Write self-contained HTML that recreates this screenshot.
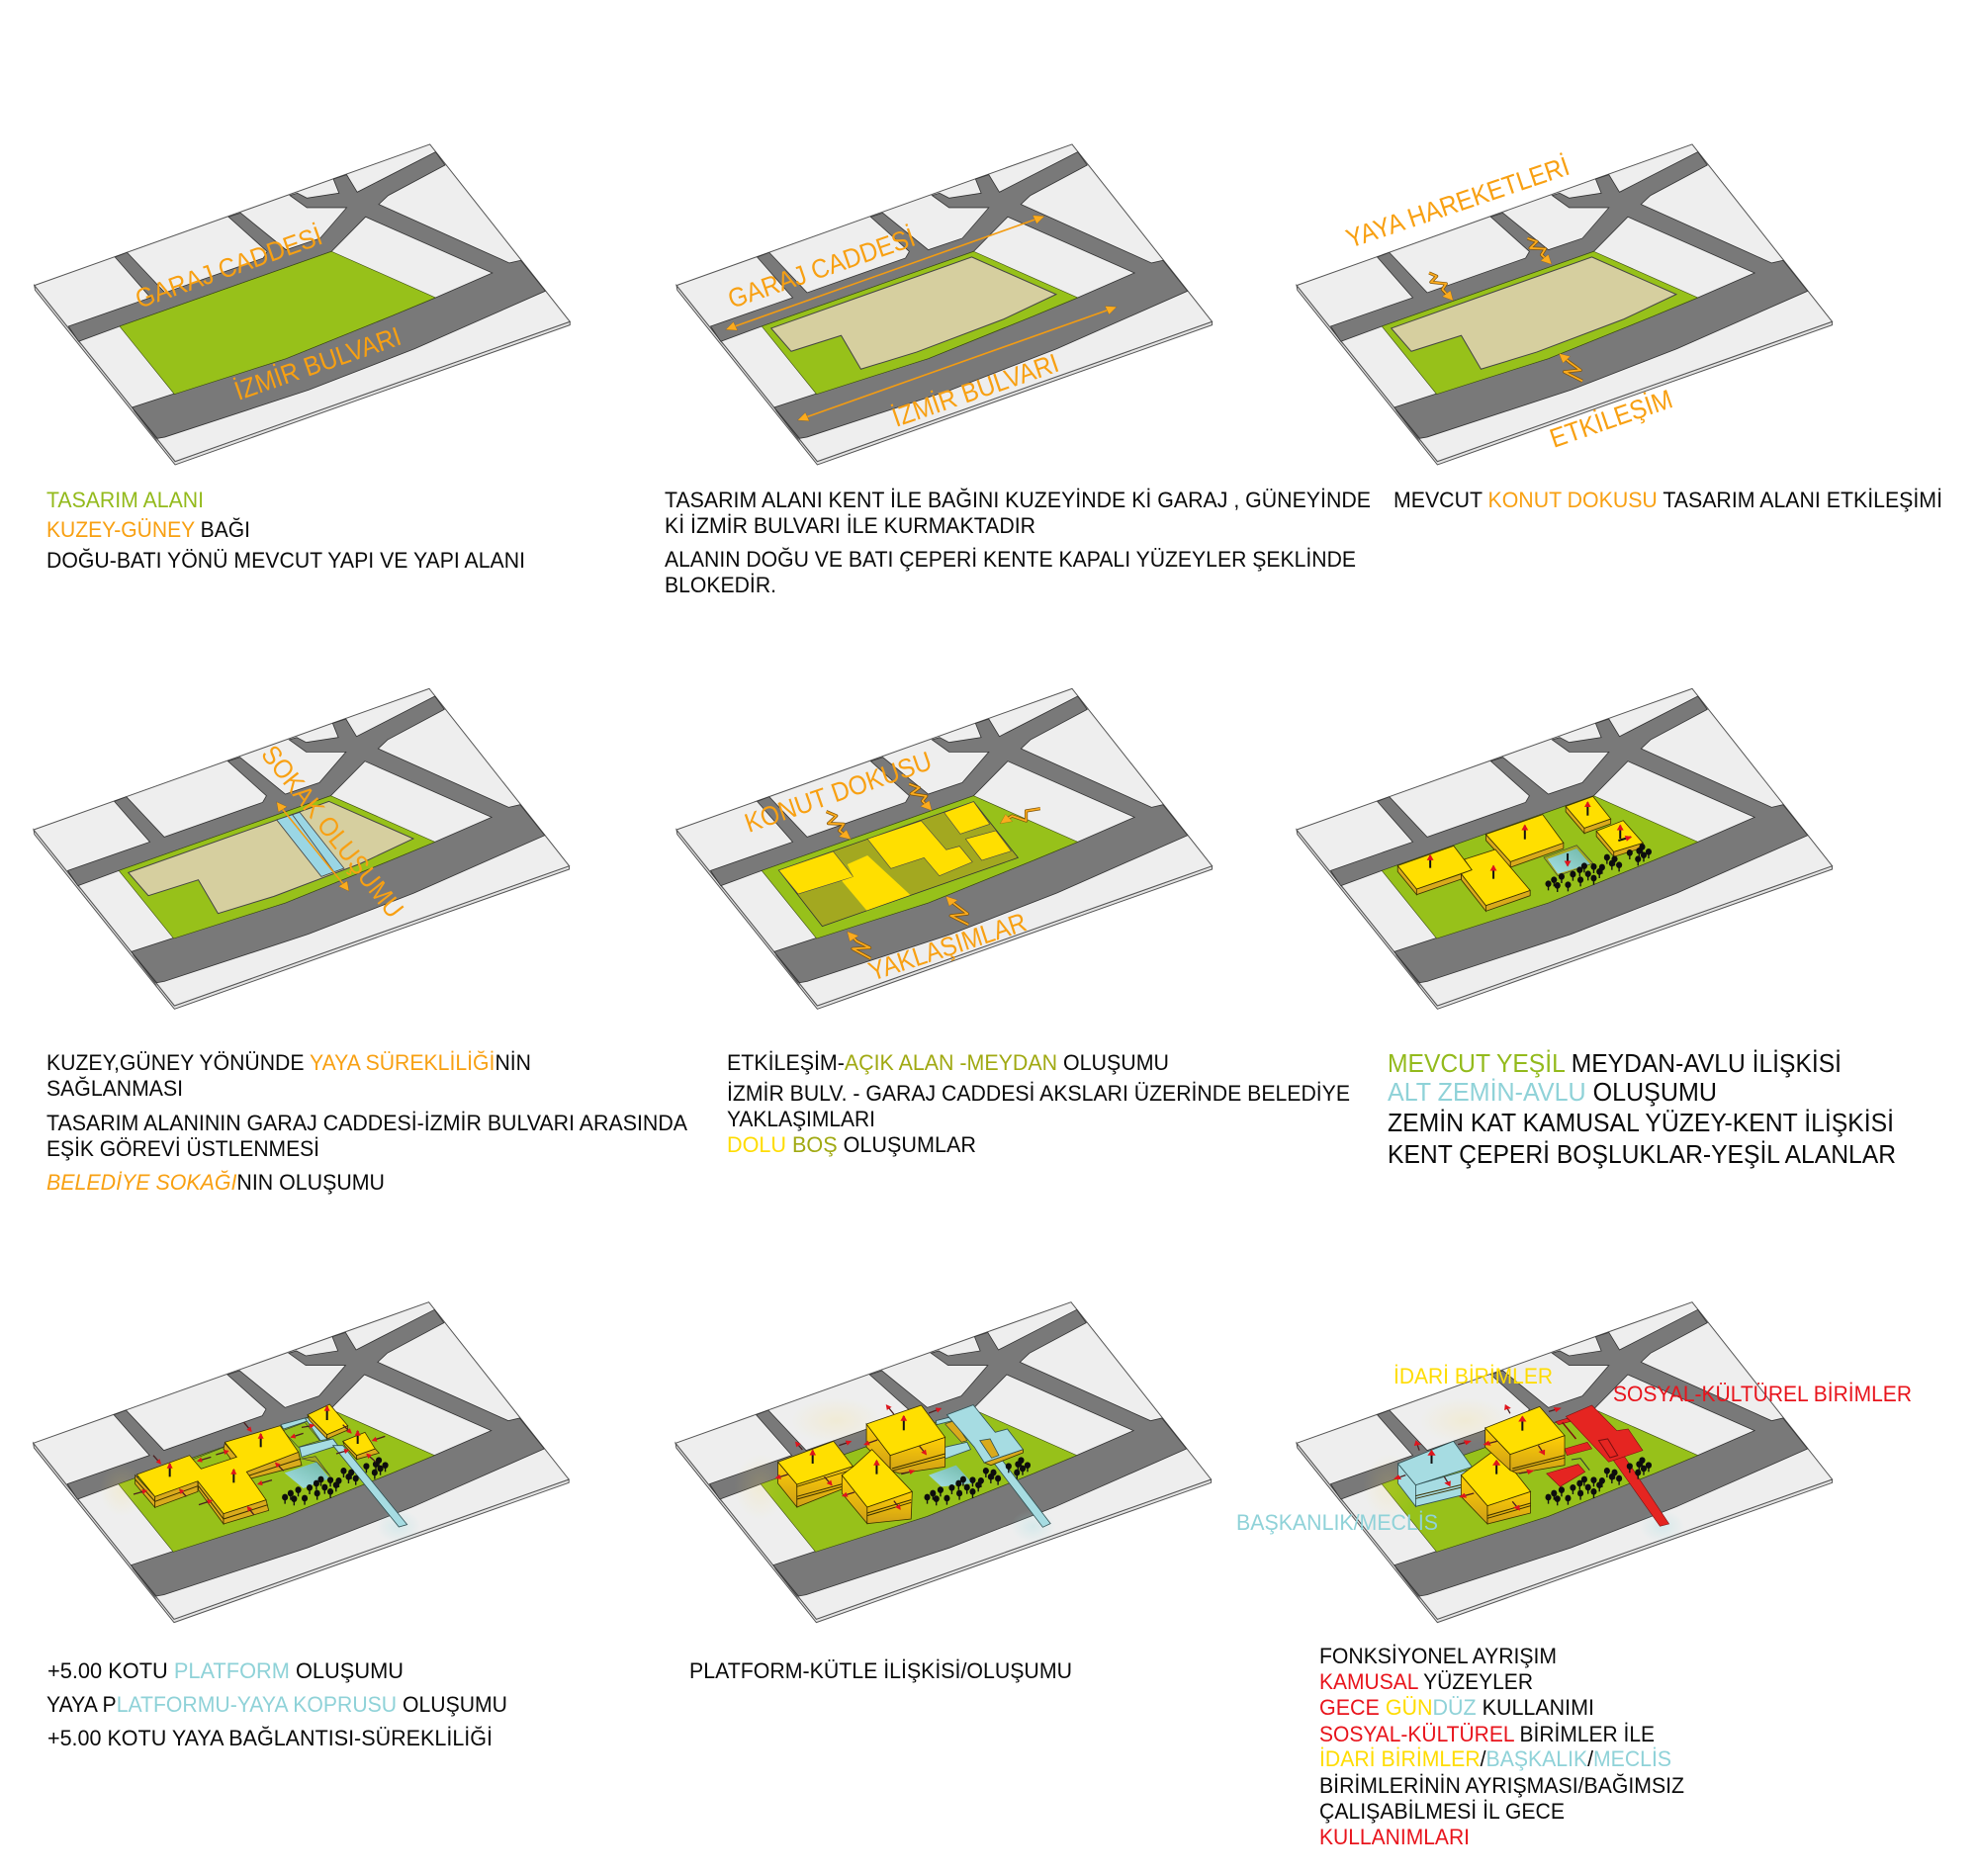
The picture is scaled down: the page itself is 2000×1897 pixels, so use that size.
<!DOCTYPE html>
<html><head><meta charset="utf-8"><style>
html,body{margin:0;padding:0;background:#fff}
svg{display:block}
svg *{vector-effect:non-scaling-stroke}
text{font-family:"Liberation Sans",sans-serif;fill:#0a0a0a;font-size:22px}
.o{fill:#f8a012}.g{fill:#93ba1c}.y{fill:#ffdc00}.r{fill:#e8141c}.c{fill:#8fd2d8}.v{fill:#a0a912}
.l{fill:#f8a012;font-size:27px}
.b{font-size:26px}
.top{fill:#ffdf00;stroke:#3a3000;stroke-width:.8}
.sd{fill:#d9aa1c;stroke:#3a3000;stroke-width:.8}
.gs{fill:url(#amb);stroke:#3a3000;stroke-width:.8}
.cy{fill:#a6dce2;stroke:#2f4f52;stroke-width:.8}
.rd{fill:#e52521;stroke:#7a1010;stroke-width:.6}
.ln{fill:none;stroke:#3a3000;stroke-width:1}
.up{stroke:#111;stroke-width:2;fill:none;marker-end:url(#rh)}
.sm{stroke:#4a2020;stroke-width:1.3;fill:none;marker-end:url(#rs)}
.zo{fill:none;stroke:#7a5008;stroke-width:3.2;stroke-linejoin:round}
.zi{fill:none;stroke:#fbab1e;stroke-width:1.8;stroke-linejoin:round;marker-end:url(#oh)}
.da{stroke:#f39c12;stroke-width:1.6;fill:none;marker-start:url(#ohs);marker-end:url(#oh)}
</style></head><body>
<svg xmlns="http://www.w3.org/2000/svg" width="2000" height="1897" viewBox="0 0 2000 1897">
<defs>
<linearGradient id="amb" x1="0" y1="0" x2="0" y2="1"><stop offset="0" stop-color="#ffcf05"/><stop offset="1" stop-color="#cf9f16"/></linearGradient>
<linearGradient id="wat" x1="0" y1="1" x2="1" y2="0"><stop offset="0" stop-color="#a6e0e6"/><stop offset="1" stop-color="#6fb7a6"/></linearGradient>
<radialGradient id="gy"><stop offset="0" stop-color="#ffd94a" stop-opacity=".15"/><stop offset="1" stop-color="#ffd94a" stop-opacity="0"/></radialGradient>
<radialGradient id="gc"><stop offset="0" stop-color="#9fdde2" stop-opacity=".3"/><stop offset="1" stop-color="#9fdde2" stop-opacity="0"/></radialGradient>
<marker id="rh" viewBox="0 0 10 10" refX="8" refY="5" markerUnits="userSpaceOnUse" markerWidth="18" markerHeight="20" orient="auto"><path d="M0 0L10 5L0 10Z" fill="#e0141c"/></marker>
<marker id="rs" viewBox="0 0 10 10" refX="8" refY="5" markerUnits="userSpaceOnUse" markerWidth="16" markerHeight="16" orient="auto"><path d="M0 0L10 5L0 10Z" fill="#e0141c"/></marker>
<marker id="oh" viewBox="0 0 10 10" refX="8" refY="5" markerUnits="userSpaceOnUse" markerWidth="30" markerHeight="28" orient="auto"><path d="M0 0L10 5L0 10Z" fill="#fbab1e" stroke="#6a4200" stroke-width=".6"/></marker>
<marker id="ohs" viewBox="0 0 10 10" refX="2" refY="5" markerUnits="userSpaceOnUse" markerWidth="30" markerHeight="28" orient="auto"><path d="M10 0L0 5L10 10Z" fill="#fbab1e" stroke="#6a4200" stroke-width=".6"/></marker>
<g id="base">
<polygon points="55,508 57,522 427,1052 1470,628 1470,618 427,1042" fill="#e2e2e2" stroke="#555" stroke-width="1"/>
<polygon points="55,508 1100,80 1470,618 427,1042" fill="#eeeeee" stroke="#555" stroke-width="1"/>
<polygon points="145,632 172,678 180,692 150,645" fill="#444"/>
<polygon points="313,878 375,970 382,985 318,890" fill="#444"/>
<polygon points="145,632 362,545 268,422 300,408 400,530 660,425 670,405 568,300 600,288 720,400 810,365 880,272 775,272 730,235 750,228 775,243 860,228 845,185 880,172 908,225 1115,103 1140,143 990,235 965,262 1310,440 1340,432 1405,525 1060,700 780,825 400,968 380,972 313,878 420,838 720,730 1000,600 1115,545 1265,470 930,300 840,405 280,632 172,678" fill="#797979" stroke="#333" stroke-width=".8"/>
<polygon points="280,632 840,405 1115,545 1000,600 720,730 425,838" fill="#97c11a" stroke="#3a4a10" stroke-width=".6"/>
</g>
<polygon id="tan" points="305,638 835,422 1058,535 920,610 690,710 542,762 490,660 358,708" fill="#d6cf9f" stroke="#444" stroke-width="1"/>
<g id="t"><line x1="0" y1="0" x2="0" y2="20" stroke="#111" stroke-width="1.4"/><ellipse cx="0" cy="0" rx="8" ry="10" fill="#0d0d0d"/></g>
<g id="trees">
<use href="#t" x="720" y="672"/><use href="#t" x="735" y="660"/><use href="#t" x="744" y="677"/><use href="#t" x="755" y="650"/><use href="#t" x="772" y="675"/><use href="#t" x="785" y="643"/><use href="#t" x="805" y="660"/><use href="#t" x="803" y="630"/><use href="#t" x="815" y="618"/><use href="#t" x="825" y="642"/><use href="#t" x="840" y="655"/><use href="#t" x="840" y="620"/><use href="#t" x="855" y="635"/><use href="#t" x="862" y="622"/><use href="#t" x="875" y="592"/><use href="#t" x="888" y="610"/><use href="#t" x="895" y="597"/><use href="#t" x="907" y="615"/><use href="#t" x="935" y="578"/><use href="#t" x="957" y="597"/><use href="#t" x="960" y="572"/><use href="#t" x="968" y="560"/><use href="#t" x="972" y="585"/><use href="#t" x="985" y="575"/>
</g>
</defs>

<!-- P1 -->
<g transform="translate(13.7,119.3) scale(.3827,.3333)"><use href="#base"/></g>

<!-- P2 -->
<g transform="translate(663,119.3) scale(.3827,.3333)"><use href="#base"/><use href="#tan"/>
<line class="da" x1="190" y1="640" x2="1022" y2="300"/>
<line class="da" x1="380" y1="915" x2="1213" y2="575"/></g>

<!-- P3 -->
<g transform="translate(1290,119.3) scale(.3827,.3333)"><use href="#base"/><use href="#tan"/>
<polyline class="zo" points="405,470 425,480 410,498 450,503 440,520 458,544"/><polyline class="zi" points="405,470 425,480 410,498 450,503 440,520 465,550"/>
<polyline class="zo" points="665,365 690,375 672,395 712,397 702,415 718,434"/><polyline class="zi" points="665,365 690,375 672,395 712,397 702,415 725,440"/>
<polyline class="zo" points="810,798 762,770 805,765 775,740 758,724"/><polyline class="zi" points="810,798 762,770 805,765 775,740 752,718"/></g>

<!-- P4 -->
<g transform="translate(13,669.7) scale(.3827,.3333)"><use href="#base"/><use href="#tan"/>
<polygon points="697,478 758,455 875,625 815,650" fill="#9ad6e4" stroke="#444" stroke-width=".8"/>
<line x1="737" y1="460" x2="850" y2="638" stroke="#444" stroke-width=".8"/>
<line class="da" x1="700" y1="428" x2="885" y2="690"/></g>

<!-- P5 -->
<g transform="translate(663,669.7) scale(.3827,.3333)"><use href="#base"/></g>
<g transform="translate(660,670) scale(.40816,.3333)">
<polygon points="312,630 795,422 905,592 420,800" fill="#a3a820" stroke="#333" stroke-width=".8"/>
<polygon points="312,630 447,573 497,650 360,702" fill="#ffdf00" stroke="#444" stroke-width=".6"/>
<polygon points="468,662 497,650 482,612 532,585 638,705 530,752" fill="#ffdf00"/>
<polygon points="532,535 665,480 727,568 760,557 792,605 710,647 672,592 590,625" fill="#ffdf00" stroke="#444" stroke-width=".6"/>
<polygon points="722,455 795,422 835,490 762,520" fill="#ffdf00" stroke="#444" stroke-width=".6"/>
<polygon points="775,535 850,510 888,572 815,600" fill="#ffdf00" stroke="#444" stroke-width=".6"/>
<polyline class="zo" points="430,452 455,465 435,488 473,490 462,510 480,526"/><polyline class="zi" points="430,452 455,465 435,488 473,490 462,510 487,533"/>
<polyline class="zo" points="635,368 660,380 640,398 678,405 668,420 682,438"/><polyline class="zi" points="635,368 660,380 640,398 678,405 668,420 688,445"/>
<polyline class="zo" points="960,443 925,450 925,480 890,465 874,477"/><polyline class="zi" points="960,443 925,450 925,480 890,465 865,485"/>
<polyline class="zo" points="782,795 738,768 780,762 745,730 737,720"/><polyline class="zi" points="782,795 738,768 780,762 745,730 730,713"/>
<polyline class="zo" points="540,898 495,868 538,865 505,845 492,828"/><polyline class="zi" points="540,898 495,868 538,865 505,845 485,820"/>
</g>

<!-- P6 -->
<g transform="translate(1290,669.7) scale(.3827,.3333)"><use href="#base"/>
<polygon points="470,557 555,522 620,605 518,640" fill="#97c11a"/>
<polygon points="708,592 795,555 838,610 745,648" fill="#a3a820" stroke="#333" stroke-width=".6"/>
<polygon points="718,597 795,565 830,612 745,642" fill="url(#wat)"/>
<polygon class="sd" points="322,617 372,688 372,705 322,635"/><polygon class="sd" points="372,688 490,642 490,658 372,705"/>
<polygon class="top" points="322,617 470,557 518,630 372,688"/>
<polygon class="sd" points="555,522 620,605 620,622 555,540"/><polygon class="sd" points="620,605 760,548 760,565 620,622"/>
<polygon class="top" points="555,522 705,462 760,548 620,605"/>
<polygon class="sd" points="490,642 555,738 555,755 490,660"/><polygon class="sd" points="555,738 672,692 672,708 555,755"/>
<polygon class="top" points="498,598 580,568 672,692 555,738 490,642 518,630"/>
<polygon class="sd" points="766,437 815,503 815,519 766,453"/><polygon class="sd" points="815,503 885,475 885,490 815,519"/>
<polygon class="top" points="766,437 838,407 885,475 815,503"/>
<polygon class="sd" points="847,512 893,575 893,590 847,528"/><polygon class="sd" points="893,575 970,548 970,562 893,590"/>
<polygon class="top" points="847,512 918,480 970,548 893,575"/>
<use href="#trees"/>
<line class="up" x1="408" y1="624" x2="408" y2="586"/><line class="up" x1="575" y1="657" x2="575" y2="618"/><line class="up" x1="658" y1="537" x2="658" y2="495"/><line class="up" x1="824" y1="465" x2="824" y2="425"/><line class="up" x1="910" y1="535" x2="910" y2="495"/><line class="up" x1="905" y1="541" x2="938" y2="530"/><line class="up" x1="771" y1="580" x2="771" y2="617"/>
</g>

<!-- P7 -->
<g transform="translate(12.6,1290) scale(.3827,.3333)"><use href="#base"/>
<ellipse cx="290" cy="650" rx="60" ry="80" fill="url(#gy)"/><ellipse cx="1020" cy="760" rx="60" ry="50" fill="url(#gc)"/></g>
<g transform="translate(120,1410) scale(.33333)">
<polygon points="225,197 320,160 345,195 250,226" fill="#97c11a" stroke="#333" stroke-width=".6"/>
<polygon points="498,110 565,85 610,140 545,160" fill="#97c11a" stroke="#333" stroke-width=".6"/>
<polygon points="555,195 597,188 642,248 600,205" fill="#a3a820" stroke="#333" stroke-width=".6"/>
<polygon points="503,238 600,205 640,255 560,285" fill="url(#wat)"/>
<polygon class="cy" points="492,92 565,72 575,80 500,105"/>
<polygon class="cy" points="565,72 580,72 640,135 612,140"/>
<polygon class="cy" points="548,160 650,135 665,155 555,190"/>
<polygon class="cy" points="650,155 680,155 875,395 850,402"/>
<polygon class="sd" points="50,245 110,310 110,343 50,272"/><polygon class="sd" points="110,310 240,263 240,295 110,343"/>
<polyline class="ln" points="50,258 110,325 240,278"/>
<polygon class="sd" points="240,263 318,362 318,393 242,290"/><polygon class="sd" points="318,362 447,320 455,352 318,393"/>
<polyline class="ln" points="242,278 318,378 452,335"/>
<polygon class="sd" points="388,235 545,175 555,215 390,258"/>
<polyline class="ln" points="390,248 553,195"/>
<polygon class="sd" points="322,148 358,190 340,196 318,165"/>
<polygon class="top" points="55,243 215,185 250,226 358,190 322,145 490,95 545,175 388,235 447,320 318,362 240,263 110,310"/>
<polygon class="sd" points="573,62 632,122 632,135 578,78"/><polygon class="sd" points="632,122 695,95 695,108 632,135"/>
<polygon class="top" points="573,62 640,30 695,95 632,122"/>
<polygon class="sd" points="680,142 722,185 722,197 685,155"/><polygon class="sd" points="722,185 778,165 790,178 722,197"/>
<polygon class="top" points="680,142 747,115 778,165 722,185"/>
</g>
<g transform="translate(12.6,1290) scale(.3827,.3333)"><use href="#trees"/></g>
<g transform="translate(120,1410) scale(.33333)">
<line class="up" x1="155" y1="250" x2="155" y2="210"/><line class="up" x1="349" y1="268" x2="349" y2="228"/><line class="up" x1="431" y1="160" x2="431" y2="120"/><line class="up" x1="632" y1="78" x2="632" y2="36"/><line class="up" x1="725" y1="150" x2="725" y2="111"/>
<line class="sm" x1="105" y1="185" x2="127" y2="210"/><line class="sm" x1="380" y1="85" x2="402" y2="112"/><line class="sm" x1="280" y1="190" x2="240" y2="202"/><line class="sm" x1="295" y1="183" x2="332" y2="172"/><line class="sm" x1="560" y1="118" x2="523" y2="130"/><line class="sm" x1="555" y1="100" x2="592" y2="94"/><line class="sm" x1="680" y1="92" x2="705" y2="117"/><line class="sm" x1="808" y1="127" x2="770" y2="140"/><line class="sm" x1="660" y1="180" x2="697" y2="169"/><line class="sm" x1="465" y1="260" x2="423" y2="272"/><line class="sm" x1="500" y1="232" x2="476" y2="208"/><line class="sm" x1="45" y1="303" x2="84" y2="292"/><line class="sm" x1="205" y1="310" x2="185" y2="288"/><line class="sm" x1="243" y1="335" x2="282" y2="322"/><line class="sm" x1="410" y1="365" x2="391" y2="341"/><line class="sm" x1="780" y1="205" x2="753" y2="181"/>
</g>

<!-- P8 -->
<g transform="translate(662,1290) scale(.3827,.3333)"><use href="#base"/>
<ellipse cx="280" cy="640" rx="70" ry="100" fill="url(#gy)"/><ellipse cx="480" cy="440" rx="120" ry="70" fill="url(#gy)"/><ellipse cx="1000" cy="760" rx="60" ry="50" fill="url(#gc)"/></g>
<g transform="translate(680,1300) scale(.36996,.3333)">
<polygon points="700,575 775,545 820,600 735,610" fill="url(#wat)"/>
<polygon points="745,420 770,410 805,470 790,475" fill="#d9aa1c" stroke="#333" stroke-width=".6"/>
<polygon class="cy" points="720,410 755,400 765,410 722,422"/>
<polygon class="cy" points="745,490 805,475 815,497 745,525"/>
<polygon class="cy" points="859,510 882,502 1033,722 1012,733"/>
<polygon class="sd" points="852,537 958,497 958,507 870,545"/>
<polygon class="cy" points="750,392 822,362 882,445 915,435 958,497 852,537 825,490"/>
<polygon points="840,470 868,465 892,515 872,523" fill="#d9aa1c" stroke="#2f4f52" stroke-width=".8"/>
<polygon class="gs" points="530,420 595,515 595,560 530,490"/><polygon class="gs" points="595,515 745,460 745,550 620,570 595,560"/>
<polyline class="ln" points="600,555 745,510"/><polyline class="ln" points="600,562 745,520"/>
<polygon class="top" points="530,420 680,363 745,460 595,515"/>
<polygon class="gs" points="288,535 340,603 340,672 288,600"/><polygon class="gs" points="340,603 480,552 480,610 340,672"/>
<polyline class="ln" points="340,640 470,600"/><polyline class="ln" points="340,648 470,608"/>
<polygon points="340,603 493,548 493,558 340,610" fill="#e8be10" stroke="#3a3000" stroke-width=".8"/>
<polygon class="top" points="288,535 440,472 493,548 340,603"/>
<polygon class="gs" points="463,575 532,672 532,722 463,630"/><polygon class="gs" points="532,672 655,625 652,708 532,722"/>
<polyline class="ln" points="532,690 652,650"/><polyline class="ln" points="532,698 652,658"/>
<polygon class="top" points="463,575 493,550 545,497 655,625 532,672"/>
</g>
<g transform="translate(662,1290) scale(.3827,.3333)"><use href="#trees"/></g>
<g transform="translate(680,1300) scale(.36996,.3333)">
<line class="up" x1="383" y1="540" x2="383" y2="500"/><line class="up" x1="558" y1="572" x2="558" y2="531"/><line class="up" x1="632" y1="439" x2="632" y2="396"/>
<line class="sm" x1="355" y1="498" x2="337" y2="475"/><line class="sm" x1="455" y1="485" x2="487" y2="473"/><line class="sm" x1="605" y1="390" x2="585" y2="363"/><line class="sm" x1="700" y1="387" x2="733" y2="373"/><line class="sm" x1="560" y1="468" x2="525" y2="482"/><line class="sm" x1="315" y1="573" x2="283" y2="584"/><line class="sm" x1="415" y1="580" x2="435" y2="605"/><line class="sm" x1="497" y1="627" x2="465" y2="638"/><line class="sm" x1="605" y1="653" x2="622" y2="678"/><line class="sm" x1="675" y1="487" x2="693" y2="512"/><line class="sm" x1="625" y1="572" x2="660" y2="562"/>
</g>

<!-- P9 -->
<g transform="translate(1290,1290) scale(.3827,.3333)"><use href="#base"/>
<ellipse cx="300" cy="640" rx="70" ry="100" fill="url(#gy)"/><ellipse cx="500" cy="440" rx="120" ry="70" fill="url(#gy)"/><ellipse cx="1020" cy="760" rx="60" ry="50" fill="url(#gc)"/></g>
<g transform="translate(1240,1340) scale(.4591,.3333)">
<polygon class="rd" points="705,450 775,422 790,445 735,490"/>
<polygon class="rd" points="725,293 750,283 758,292 732,302"/>
<polyline points="740,295 770,345" fill="none" stroke="#7a1010" stroke-width="1.5"/>
<polyline points="760,408 780,404 800,440" fill="none" stroke="#333" stroke-width="1"/>
<polygon class="rd" points="745,375 795,355 805,375 750,395"/>
<polygon class="rd" points="837,380 863,370 975,603 955,610"/>
<polygon class="rd" points="748,277 805,243 860,320 885,315 917,380 842,415"/>
<polygon fill="none" stroke="#7a1010" stroke-width="1" points="820,350 840,345 862,395 845,402"/>
<polygon class="cy" points="378,420 417,485 417,550 378,480"/><polygon class="cy" points="417,485 530,440 530,512 417,550"/>
<polyline class="ln" points="417,518 530,480"/><polyline class="ln" points="417,526 530,488"/>
<polygon class="cy" points="378,420 500,352 541,430 417,485"/>
<polygon class="gs" points="517,455 575,548 575,603 517,520"/><polygon class="gs" points="575,548 670,505 670,570 575,603"/>
<polyline class="ln" points="575,578 670,540"/><polyline class="ln" points="575,586 670,548"/>
<polygon class="top" points="517,455 541,430 595,375 670,505 575,548"/>
<polygon class="gs" points="570,312 625,392 625,440 570,370"/><polygon class="gs" points="625,392 745,335 745,425 640,450 625,440"/>
<polyline class="ln" points="630,435 745,395"/><polyline class="ln" points="630,442 745,403"/>
<polygon class="top" points="570,312 690,247 745,335 625,392"/>
</g>
<g transform="translate(1290,1290) scale(.3827,.3333)"><use href="#trees"/></g>
<g transform="translate(1240,1340) scale(.4591,.3333)">
<line class="up" x1="452" y1="420" x2="452" y2="381"/><line class="up" x1="595" y1="452" x2="595" y2="411"/><line class="up" x1="652" y1="320" x2="652" y2="278"/>
<line class="sm" x1="425" y1="380" x2="418" y2="352"/><line class="sm" x1="510" y1="362" x2="537" y2="352"/><line class="sm" x1="625" y1="268" x2="615" y2="243"/><line class="sm" x1="710" y1="262" x2="735" y2="252"/><line class="sm" x1="596" y1="352" x2="568" y2="362"/><line class="sm" x1="395" y1="455" x2="371" y2="466"/><line class="sm" x1="480" y1="460" x2="492" y2="487"/><line class="sm" x1="545" y1="510" x2="515" y2="521"/><line class="sm" x1="630" y1="535" x2="645" y2="560"/><line class="sm" x1="687" y1="365" x2="700" y2="392"/><line class="sm" x1="645" y1="450" x2="675" y2="442"/>
</g>

<!-- rotated map labels -->
<text class="l" transform="translate(141,312) rotate(-19.5)" textLength="198" lengthAdjust="spacingAndGlyphs">GARAJ CADDESİ</text>
<text class="l" transform="translate(241,405) rotate(-19)" textLength="176" lengthAdjust="spacingAndGlyphs">İZMİR BULVARI</text>
<text class="l" transform="translate(740,312) rotate(-19)" textLength="198" lengthAdjust="spacingAndGlyphs">GARAJ CADDESİ</text>
<text class="l" transform="translate(906,432) rotate(-19)" textLength="176" lengthAdjust="spacingAndGlyphs">İZMİR BULVARI</text>
<text class="l" transform="translate(1365,251) rotate(-18.6)" textLength="236" lengthAdjust="spacingAndGlyphs">YAYA HAREKETLERİ</text>
<text class="l" transform="translate(1571,453) rotate(-19)" textLength="129" lengthAdjust="spacingAndGlyphs">ETKİLEŞİM</text>
<text class="l" transform="translate(263,763) rotate(51.7)" textLength="213" lengthAdjust="spacingAndGlyphs">SOKAK OLUŞUMU</text>
<text class="l" transform="translate(757,842) rotate(-19.2)" textLength="198" lengthAdjust="spacingAndGlyphs">KONUT DOKUSU</text>
<text class="l" transform="translate(882,992) rotate(-18.2)" textLength="166" lengthAdjust="spacingAndGlyphs">YAKLAŞIMLAR</text>

<text class="y" x="1409" y="1399" textLength="161" lengthAdjust="spacingAndGlyphs">İDARİ BİRİMLER</text>
<text class="r" x="1631" y="1417" textLength="302" lengthAdjust="spacingAndGlyphs">SOSYAL-KÜLTÜREL BİRİMLER</text>
<text class="c" x="1250" y="1547" textLength="204" lengthAdjust="spacingAndGlyphs">BAŞKANLIK/MECLİS</text>

<!-- P1 text -->
<text x="47" y="513" textLength="159" lengthAdjust="spacingAndGlyphs"><tspan class="g">TASARIM ALANI</tspan></text>
<text x="47" y="543" textLength="206" lengthAdjust="spacingAndGlyphs"><tspan class="o">KUZEY-GÜNEY</tspan> BAĞI</text>
<text x="47" y="574" textLength="484" lengthAdjust="spacingAndGlyphs">DOĞU-BATI YÖNÜ MEVCUT YAPI VE YAPI ALANI</text>
<!-- P2 text -->
<text x="672" y="513" textLength="714" lengthAdjust="spacingAndGlyphs">TASARIM ALANI KENT İLE BAĞINI KUZEYİNDE Kİ GARAJ , GÜNEYİNDE</text>
<text x="672" y="539" textLength="375" lengthAdjust="spacingAndGlyphs">Kİ İZMİR BULVARI İLE KURMAKTADIR</text>
<text x="672" y="573" textLength="699" lengthAdjust="spacingAndGlyphs">ALANIN DOĞU VE BATI ÇEPERİ KENTE KAPALI YÜZEYLER ŞEKLİNDE</text>
<text x="672" y="599" textLength="113" lengthAdjust="spacingAndGlyphs">BLOKEDİR.</text>
<!-- P3 text -->
<text x="1409" y="513" textLength="555" lengthAdjust="spacingAndGlyphs">MEVCUT <tspan class="o">KONUT DOKUSU</tspan> TASARIM ALANI ETKİLEŞİMİ</text>
<!-- P4 text -->
<text x="47" y="1082" textLength="490" lengthAdjust="spacingAndGlyphs">KUZEY,GÜNEY YÖNÜNDE <tspan class="o">YAYA SÜREKLİLİĞİ</tspan>NİN</text>
<text x="47" y="1108" textLength="138" lengthAdjust="spacingAndGlyphs">SAĞLANMASI</text>
<text x="47" y="1143" textLength="648" lengthAdjust="spacingAndGlyphs">TASARIM ALANININ GARAJ CADDESİ-İZMİR BULVARI ARASINDA</text>
<text x="47" y="1169" textLength="276" lengthAdjust="spacingAndGlyphs">EŞİK GÖREVİ ÜSTLENMESİ</text>
<text x="47" y="1203" textLength="342" lengthAdjust="spacingAndGlyphs"><tspan class="o" font-style="italic">BELEDİYE SOKAĞI</tspan>NIN OLUŞUMU</text>
<!-- P5 text -->
<text x="735" y="1082" textLength="447" lengthAdjust="spacingAndGlyphs">ETKİLEŞİM-<tspan class="v">AÇIK ALAN -MEYDAN</tspan> OLUŞUMU</text>
<text x="735" y="1113" textLength="630" lengthAdjust="spacingAndGlyphs">İZMİR BULV. - GARAJ CADDESİ AKSLARI ÜZERİNDE BELEDİYE</text>
<text x="735" y="1139" textLength="150" lengthAdjust="spacingAndGlyphs">YAKLAŞIMLARI</text>
<text x="735" y="1165" textLength="252" lengthAdjust="spacingAndGlyphs"><tspan class="y">DOLU</tspan> <tspan class="v">BOŞ</tspan> OLUŞUMLAR</text>
<!-- P6 text -->
<text class="b" x="1403" y="1084" textLength="459" lengthAdjust="spacingAndGlyphs"><tspan class="g">MEVCUT YEŞİL</tspan> MEYDAN-AVLU İLİŞKİSİ</text>
<text class="b" x="1403" y="1113" textLength="333" lengthAdjust="spacingAndGlyphs"><tspan class="c">ALT ZEMİN-AVLU</tspan> OLUŞUMU</text>
<text class="b" x="1403" y="1144" textLength="512" lengthAdjust="spacingAndGlyphs">ZEMİN KAT KAMUSAL YÜZEY-KENT İLİŞKİSİ</text>
<text class="b" x="1403" y="1176" textLength="514" lengthAdjust="spacingAndGlyphs">KENT ÇEPERİ BOŞLUKLAR-YEŞİL ALANLAR</text>
<!-- P7 text -->
<text x="48" y="1697" textLength="360" lengthAdjust="spacingAndGlyphs">+5.00 KOTU <tspan class="c">PLATFORM</tspan> OLUŞUMU</text>
<text x="47" y="1731" textLength="466" lengthAdjust="spacingAndGlyphs">YAYA P<tspan class="c">LATFORMU-YAYA KOPRUSU</tspan> OLUŞUMU</text>
<text x="48" y="1765" textLength="450" lengthAdjust="spacingAndGlyphs">+5.00 KOTU YAYA BAĞLANTISI-SÜREKLİLİĞİ</text>
<!-- P8 text -->
<text x="697" y="1697" textLength="387" lengthAdjust="spacingAndGlyphs">PLATFORM-KÜTLE İLİŞKİSİ/OLUŞUMU</text>
<!-- P9 text -->
<text x="1334" y="1682" textLength="240" lengthAdjust="spacingAndGlyphs">FONKSİYONEL AYRIŞIM</text>
<text x="1334" y="1708" textLength="216" lengthAdjust="spacingAndGlyphs"><tspan class="r">KAMUSAL</tspan> YÜZEYLER</text>
<text x="1334" y="1734" textLength="278" lengthAdjust="spacingAndGlyphs"><tspan class="r">GECE</tspan> <tspan class="y">GÜN</tspan><tspan class="c">DÜZ</tspan> KULLANIMI</text>
<text x="1334" y="1761" textLength="339" lengthAdjust="spacingAndGlyphs"><tspan class="r">SOSYAL-KÜLTÜREL</tspan> BİRİMLER İLE</text>
<text x="1334" y="1786" textLength="356" lengthAdjust="spacingAndGlyphs"><tspan class="y">İDARİ BİRİMLER</tspan>/<tspan class="c">BAŞKALIK</tspan>/<tspan class="c">MECLİS</tspan></text>
<text x="1334" y="1813" textLength="369" lengthAdjust="spacingAndGlyphs">BİRİMLERİNİN AYRIŞMASI/BAĞIMSIZ</text>
<text x="1334" y="1839" textLength="248" lengthAdjust="spacingAndGlyphs">ÇALIŞABİLMESİ İL GECE</text>
<text x="1334" y="1865" textLength="152" lengthAdjust="spacingAndGlyphs"><tspan class="r">KULLANIMLARI</tspan></text>
</svg>
</body></html>
